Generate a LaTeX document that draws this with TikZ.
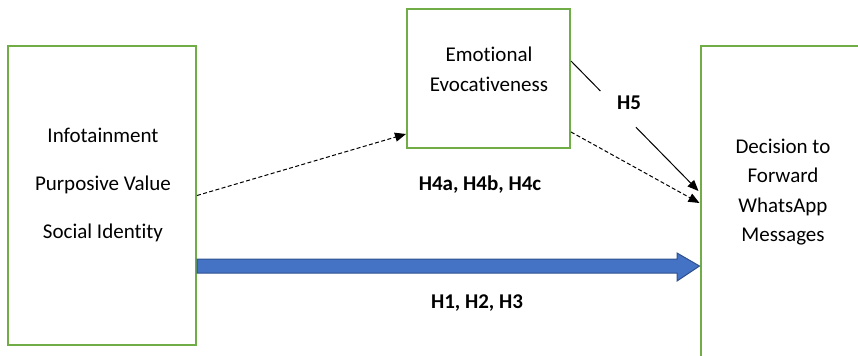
\documentclass[tikz,border=0pt]{standalone}
\usepackage{fontspec}
\setmainfont[RawFeature={-liga;-clig;-dlig;-calt}]{Carlito}
\usetikzlibrary{arrows.meta,calc}

\definecolor{boxgreen}{HTML}{70AD47}
\definecolor{arrowblue}{HTML}{4472C4}
\definecolor{arrowedge}{HTML}{2F528F}

\tikzset{
  varbox/.style={draw=boxgreen, line width=1pt, inner sep=0pt},
  vartext/.style={align=center, inner sep=0pt},
  hyp/.style={font=\fontsize{10.5}{13}\selectfont\bfseries},
  dasharrow/.style={dash pattern=on 2pt off 1.2pt, line width=0.5pt, -{Triangle[length=5.5pt,width=4.5pt]}},
  solidarrow/.style={line width=0.5pt, -{Triangle[length=5.5pt,width=4.5pt]}}
}

\begin{document}
\begin{tikzpicture}[x=0.5pt,y=-0.5pt,font=\fontsize{10.5}{14.8}\selectfont]
\useasboundingbox (0,0) rectangle (858,355);
\clip (0,0) rectangle (858,355);

% boxes
\node[varbox, minimum width=94pt, minimum height=149.5pt] (factors) at (102,195.5) {};
\node[vartext, font=\fontsize{10.5}{24}\selectfont] (factorstext) at (103,185) {Infotainment\\Purposive Value\\Social Identity};
\node[varbox, minimum width=81.5pt, minimum height=69.5pt] (emo) at (488.5,78.5) {};
\node[vartext] (emotext) at (489,69) {Emotional\\Evocativeness};
\node[varbox, minimum width=95pt, minimum height=177pt] (dec) at (795.5,223) {};
\node[vartext] (dectext) at (783,192) {Decision to\\Forward\\WhatsApp\\Messages};

% hypothesis labels
\node[hyp] (h4) at (480,185) {H4a, H4b, H4c};
\node[hyp] (h5) at (629,103) {H5};
\node[hyp] (h1) at (477,303) {H1, H2, H3};

% direct effect
\fill[arrowblue, draw=arrowedge, line width=0.5pt]
  (factors.east |- 0,259) -- (677,259) -- (677,253) -- (dec.west |- 0,266)
  -- (677,281) -- (677,273) -- (factors.east |- 0,273) -- cycle;

% mediated paths
\draw[dasharrow] (factors.east) -- ($(emo.south west)+(0,-15)$);
\draw[dasharrow] ($(emo.south east)+(0,-17)$) -- ($(dec.west)+(0,-20)$);

\coordinate (h5start) at ($(emo.north east)+(0,53)$);
\coordinate (h5end) at ($(dec.west)+(-1,-32)$);
\node[circle, minimum size=25pt, inner sep=0pt] (h5gap) at ($(h5start)!0.37!(h5end)$) {};
\draw[line width=0.5pt] (h5start) -- (h5gap);
\draw[solidarrow] (h5gap) -- (h5end);
\end{tikzpicture}
\end{document}
